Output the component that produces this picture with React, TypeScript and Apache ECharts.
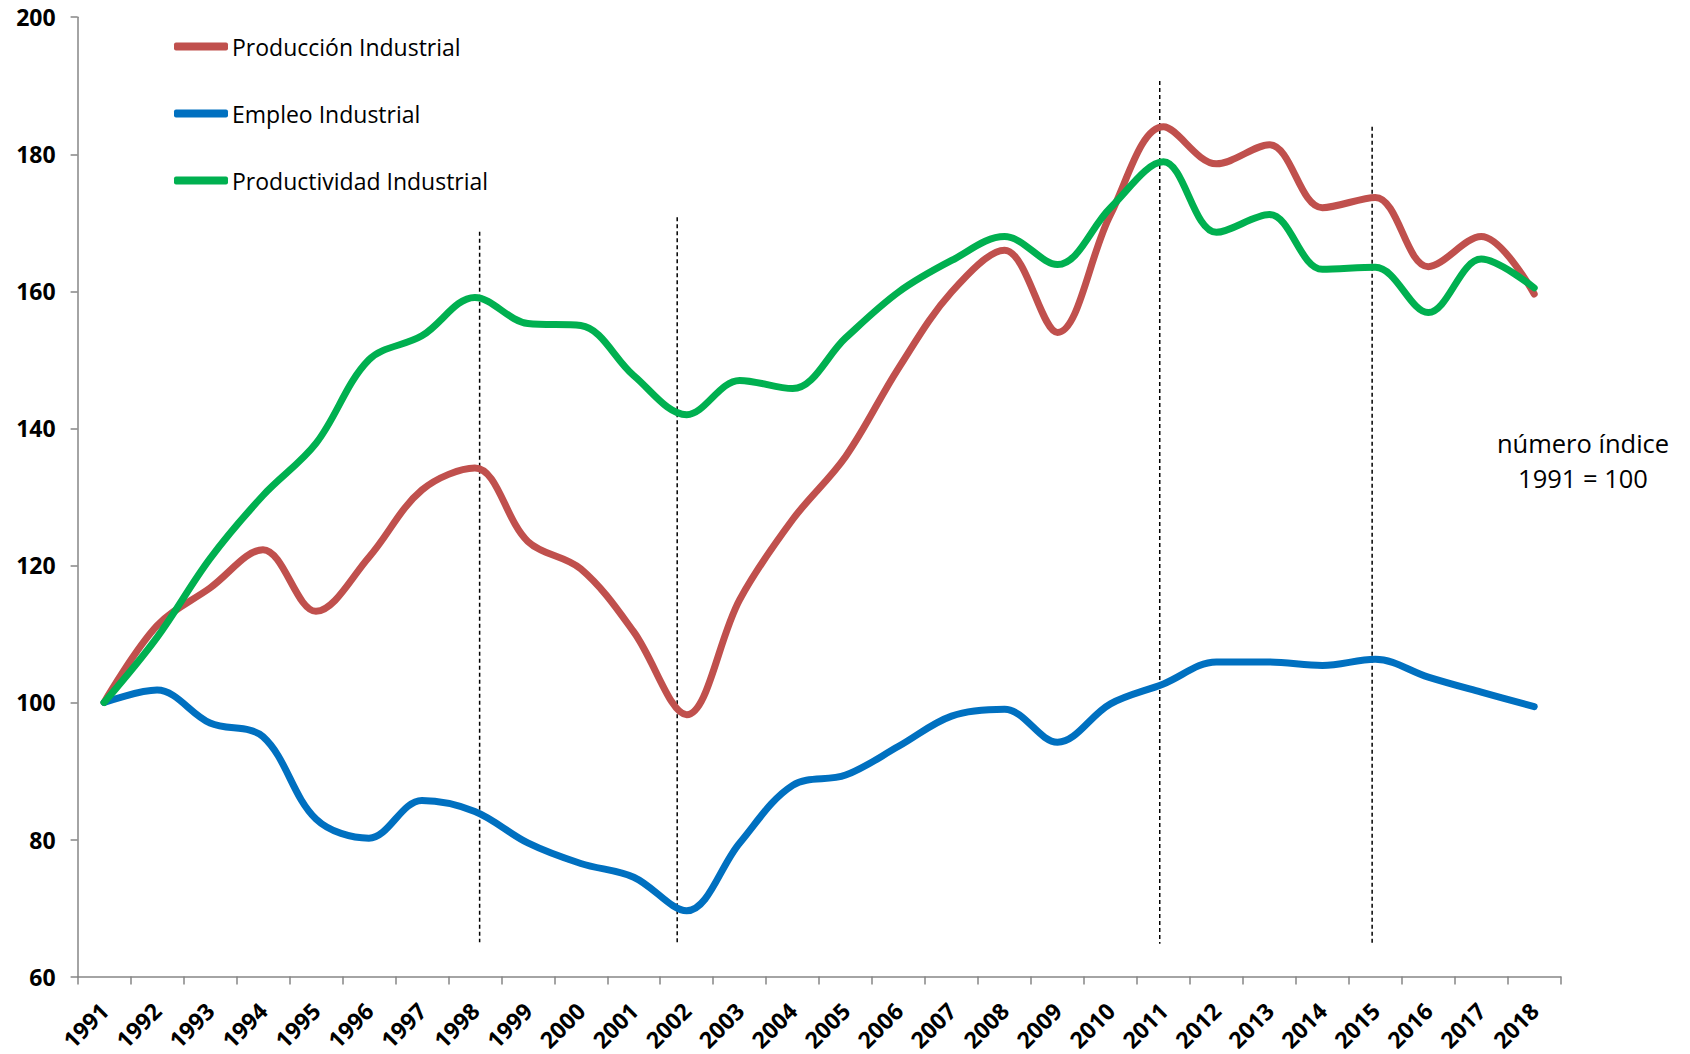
import React, { useEffect, useRef } from "react";
import * as echarts from "echarts";

const years = [
  "1991", "1992", "1993", "1994", "1995", "1996", "1997", "1998", "1999", "2000",
  "2001", "2002", "2003", "2004", "2005", "2006", "2007", "2008", "2009", "2010",
  "2011", "2012", "2013", "2014", "2015", "2016", "2017", "2018",
];

const produccion = [
  100, 111.2, 116.7, 122.3, 113.3, 121.2, 131.0, 134.2, 123.5, 119.5,
  110.3, 98.2, 115.0, 126.7, 135.9, 148.8, 159.9, 166.0, 154.0, 171.2,
  184.0, 178.6, 181.4, 172.2, 173.7, 163.6, 168.0, 159.6,
];

const empleo = [
  100, 101.8, 97.0, 95.0, 83.0, 80.2, 85.7, 84.1, 79.5, 76.5,
  74.5, 69.6, 79.5, 87.9, 89.4, 93.6, 98.0, 99.0, 94.2, 99.8,
  102.7, 105.9, 105.9, 105.4, 106.3, 103.7, 101.5, 99.4,
];

const productividad = [
  100, 109.5, 121.0, 130.2, 137.8, 150.0, 153.5, 159.1, 155.3, 155.0,
  147.7, 142.0, 147.0, 145.8, 153.2, 159.9, 164.5, 168.0, 163.9, 172.2,
  178.9, 168.6, 171.2, 163.2, 163.5, 156.9, 164.7, 160.5,
];

const seriesNames = ["Producción Industrial", "Empleo Industrial", "Productividad Industrial"];
const seriesColors = ["#C0504D", "#0070C0", "#00B050"];

// vertical dashed reference lines: position in category units, top value, bottom value
const refLineX = [7.59, 11.32, 20.43, 24.44];
const refLineTop = [168.7, 170.8, 190.7, 184.0];
const refLineBottom = [65.0, 65.0, 64.8, 64.8];

const yTicks = { min: 60, max: 200, interval: 20 };
const noteText = "número índice\n1991 = 100";

const FONT = "'Open Sans', 'Noto Sans', sans-serif";

export default function App() {
  const ref = useRef<HTMLDivElement>(null);

  useEffect(() => {
    if (!ref.current) return;
    const chart = echarts.init(ref.current, undefined, { renderer: "svg" });

    const mainSeries = [produccion, empleo, productividad].map((d, i) => ({
      name: seriesNames[i],
      type: "line",
      data: d,
      xAxisIndex: 0,
      yAxisIndex: 0,
      smooth: 0.35,
      symbol: "none",
      color: seriesColors[i],
      lineStyle: { width: 7, color: seriesColors[i], cap: "round", join: "round" },
      z: 3,
    }));

    const refSeries = refLineX.map((x, i) => ({
      name: "ref" + i,
      type: "line",
      xAxisIndex: 1,
      yAxisIndex: 0,
      data: [
        [x, refLineTop[i]],
        [x, refLineBottom[i]],
      ],
      symbol: "none",
      silent: true,
      lineStyle: { color: "#000000", width: 1.5, type: [4, 3] },
      z: 2,
    }));

    const legendTops = [35, 102, 169];
    const legends = seriesNames.map((n, i) => ({
      data: [n],
      orient: "horizontal",
      left: 174,
      top: legendTops[i],
      padding: 0,
      icon: "roundRect",
      itemWidth: 54,
      itemHeight: 8,
      selectedMode: false,
      textStyle: { fontFamily: FONT, fontSize: 23, color: "#000000", padding: [0, 0, 0, -1] },
    }));

    chart.setOption({
      animation: false,
      backgroundColor: "#ffffff",
      grid: { left: 77.6, right: 129.3, top: 17.2, bottom: 76.4, containLabel: false },
      legend: legends,
      xAxis: [
        {
          type: "category",
          data: years,
          boundaryGap: true,
          axisLine: { show: true, lineStyle: { color: "#868686", width: 1.5 } },
          axisTick: { show: true, length: 8, lineStyle: { color: "#868686", width: 1.5 } },
          axisLabel: {
            rotate: 45,
            margin: 30,
            fontFamily: FONT,
            fontWeight: "bold",
            fontSize: 23,
            color: "#000000",
            interval: 0,
          },
          splitLine: { show: false },
        },
        {
          type: "value",
          min: 0,
          max: 28,
          show: false,
          splitLine: { show: false },
        },
      ],
      yAxis: {
        type: "value",
        min: yTicks.min,
        max: yTicks.max,
        interval: yTicks.interval,
        axisLine: { show: true, lineStyle: { color: "#868686", width: 1.5 } },
        axisTick: { show: true, length: 7, lineStyle: { color: "#868686", width: 1.5 } },
        axisLabel: {
          margin: 22,
          fontFamily: FONT,
          fontWeight: "bold",
          fontSize: 23,
          color: "#000000",
        },
        splitLine: { show: false },
      },
      graphic: [
        {
          type: "text",
          x: 1583,
          y: 460,
          style: {
            text: noteText,
            textAlign: "center",
            textVerticalAlign: "middle",
            fontFamily: FONT,
            fontSize: 25.5,
            lineHeight: 35,
            fill: "#000000",
          },
        },
      ],
      series: [...refSeries, ...mainSeries],
    });

    return () => chart.dispose();
  }, []);

  return (
    <div
      ref={ref}
      style={{ position: "fixed", left: 0, top: 0, width: 1690, height: 1054, background: "#fff" }}
    />
  );
}
